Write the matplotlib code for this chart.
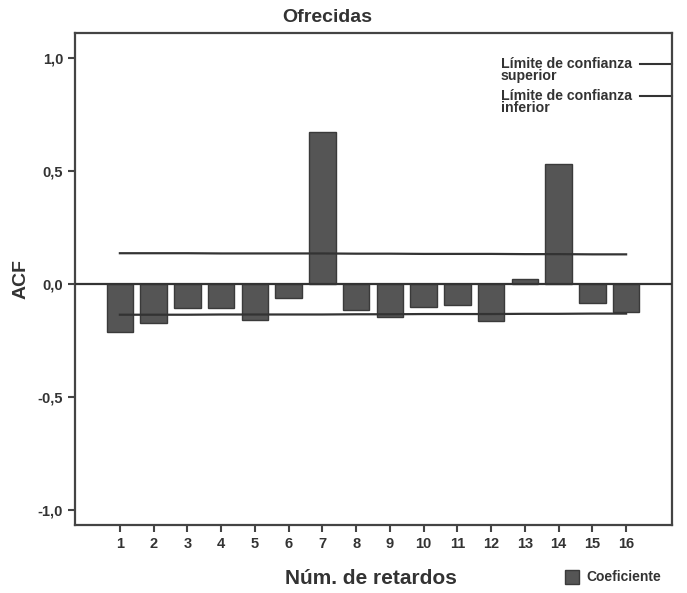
import matplotlib
matplotlib.use("Agg")
import matplotlib.pyplot as plt
from matplotlib.patches import Rectangle

plt.rcParams['font.family'] = ['Liberation Sans', 'DejaVu Sans']

lags = list(range(1, 17))
acf = [-0.211, -0.172, -0.105, -0.108, -0.161, -0.061, 0.672, -0.113,
       -0.147, -0.103, -0.094, -0.165, 0.023, 0.529, -0.086, -0.125]
upper_conf = [0.136, 0.136, 0.136, 0.135, 0.135, 0.135, 0.135, 0.134,
              0.134, 0.133, 0.133, 0.133, 0.132, 0.132, 0.131, 0.131]
lower_conf = [-u for u in upper_conf]
yticks = [-1.0, -0.5, 0.0, 0.5, 1.0]
yticklabels = ['-1,0', '-0,5', '0,0', '0,5', '1,0']

txt = '#333333'
bar_col = '#555555'
edge = '#3a3a3a'
line_col = '#333333'

fig = plt.figure(figsize=(6.87, 5.93), dpi=100)
ax = fig.add_axes([75/687, 1-525/593, (672-75)/687, (525-33)/593])

ax.bar(lags, acf, width=0.78, color=bar_col, edgecolor=edge, linewidth=1.0, zorder=2)
ax.plot(lags, upper_conf, color=line_col, lw=1.6, zorder=3)
ax.plot(lags, lower_conf, color=line_col, lw=1.6, zorder=3)
ax.axhline(0, color=line_col, lw=1.6, zorder=3)

ax.set_xlim(-0.33, 17.36)
ax.set_ylim(-1.066, 1.11)
ax.set_xticks(lags)
ax.set_xticklabels([str(l) for l in lags])
ax.set_yticks(yticks)
ax.set_yticklabels(yticklabels)
ax.tick_params(axis='both', direction='out', length=5, width=1.5, color='#444444',
               labelcolor=txt, labelsize=10.5)
for lab in ax.get_xticklabels() + ax.get_yticklabels():
    lab.set_fontweight('bold')
for s in ax.spines.values():
    s.set_color('#444444')
    s.set_linewidth(1.6)

fig.text(327/687, 1-17/593, 'Ofrecidas', fontsize=14, fontweight='bold', color=txt,
         ha='center', va='center')
ax.set_ylabel('ACF', fontsize=14, fontweight='bold', color=txt, labelpad=6)
fig.text(371/687, 1-578/593, 'Núm. de retardos', fontsize=15, fontweight='bold', color=txt,
         ha='center', va='center')

# legend for confidence limits (inside, top right)
def fx(px):
    return (px - 75) / (672 - 75)
def fy(py):
    return 1 - (py - 33) / (525 - 33)

ax.text(fx(501), fy(57), 'Límite de confianza\nsuperior', transform=ax.transAxes,
        fontsize=10.2, fontweight='bold', color=txt, va='top', ha='left', linespacing=0.85)
ax.text(fx(501), fy(89), 'Límite de confianza\ninferior', transform=ax.transAxes,
        fontsize=10.2, fontweight='bold', color=txt, va='top', ha='left', linespacing=0.85)
ax.plot([fx(640), 1.0], [fy(64), fy(64)], transform=ax.transAxes, color=line_col, lw=1.5, clip_on=False)
ax.plot([fx(640), 1.0], [fy(96), fy(96)], transform=ax.transAxes, color=line_col, lw=1.5, clip_on=False)

# bar legend bottom right
fig.patches.append(Rectangle((565/687, 1-584/593), 14/687, 14/593, transform=fig.transFigure,
                             facecolor=bar_col, edgecolor=edge, lw=1.0))
fig.text(586/687, 1-577/593, 'Coeficiente', fontsize=10, fontweight='bold', color=txt,
         va='center', ha='left')

fig.savefig('out.png', dpi=100)
